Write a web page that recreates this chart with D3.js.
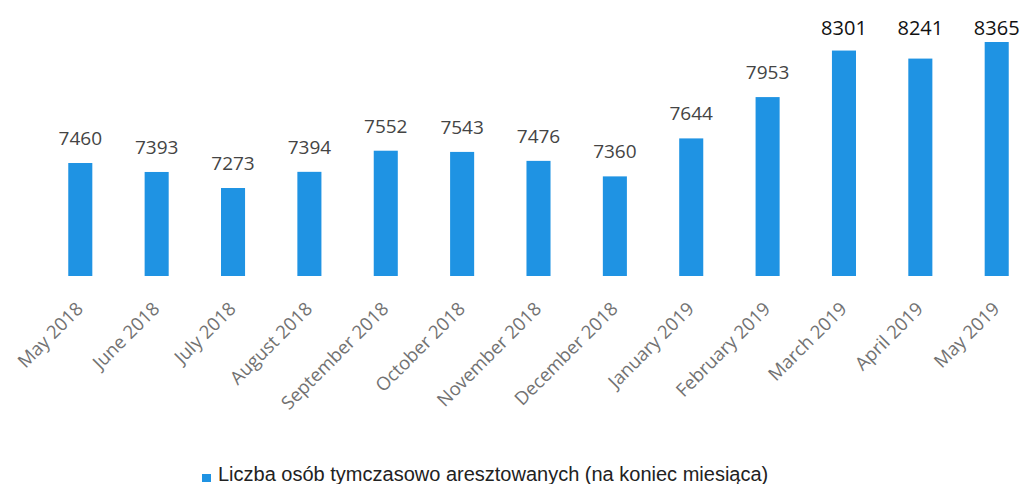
<!DOCTYPE html>
<html>
<head>
<meta charset="utf-8">
<script src="https://cdn.jsdelivr.net/npm/d3@7"></script>
<style>
  html, body { margin: 0; padding: 0; background: #ffffff; }
  svg { display: block; }
</style>
</head>
<body>
<script>
const categories = ["May 2018", "June 2018", "July 2018", "August 2018", "September 2018", "October 2018",
  "November 2018", "December 2018", "January 2019", "February 2019", "March 2019", "April 2019", "May 2019"];
const values = [7460, 7393, 7273, 7394, 7552, 7543, 7476, 7360, 7644, 7953, 8301, 8241, 8365];
const seriesName = "Liczba osób tymczasowo aresztowanych (na koniec miesiąca)";
const yMin = 6615;

const W = 1026, H = 484;
const svg = d3.select("body").append("svg").attr("width", W).attr("height", H);

const x = d3.scaleBand().domain(categories).range([42.3, 1034.7]).paddingInner(0.685).paddingOuter(0.34);
const y = d3.scaleLinear().domain([yMin, d3.max(values)]).range([276, 42]);

const barColor = "#1f93e3";

svg.append("g").selectAll("rect").data(values).join("rect")
  .attr("x", (d, i) => x(categories[i]))
  .attr("y", d => y(d))
  .attr("width", x.bandwidth())
  .attr("height", d => y(yMin) - y(d))
  .attr("fill", barColor);

// value labels
svg.append("g").selectAll("text").data(values).join("text")
  .attr("x", (d, i) => x(categories[i]) + x.bandwidth() / 2)
  .attr("y", (d, i) => i >= 10 ? 35 : y(d) - 18)
  .attr("text-anchor", "middle")
  .attr("font-family", "'Open Sans', sans-serif")
  .attr("font-size", (d, i) => i >= 10 ? "20px" : "19px")
  .attr("fill", (d, i) => i >= 10 ? "#111111" : "#444444")
  .text(d => d);

// x axis labels
const xAxis = d3.axisBottom(x).tickSize(0).tickPadding(0);
const gx = svg.append("g").attr("transform", "translate(0,276)").call(xAxis);
gx.select(".domain").remove();
gx.selectAll(".tick text")
  .attr("font-family", "'Open Sans', sans-serif")
  .attr("font-size", "18.5px")
  .attr("fill", "#727272")
  .attr("text-anchor", "end")
  .attr("dy", null)
  .attr("y", null)
  .attr("transform", "translate(4,34) rotate(-45)");

// legend
const lg = svg.append("g");
lg.append("rect").attr("x", 202).attr("y", 474).attr("width", 9).attr("height", 8).attr("fill", barColor);
lg.append("text").attr("x", 218).attr("y", 481)
  .attr("font-family", "'Liberation Sans', Arial, sans-serif")
  .attr("font-size", "20px")
  .attr("fill", "#222222")
  .text(seriesName);
</script>
</body>
</html>
